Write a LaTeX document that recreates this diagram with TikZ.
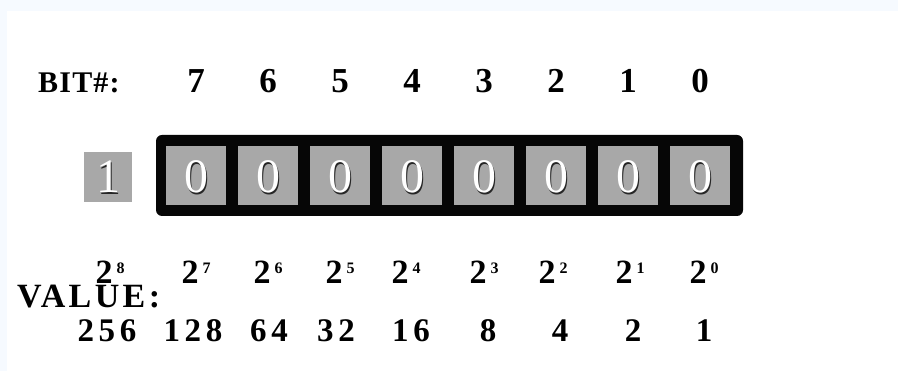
\documentclass[tikz,border=0pt]{standalone}
\usepackage{fontspec}
\setmainfont{Liberation Serif}
\usetikzlibrary{positioning}
\definecolor{cellgray}{HTML}{A8A8A8}
\definecolor{bandblue}{HTML}{F6FAFF}
\definecolor{regblack}{HTML}{060606}
\begin{document}
\begin{tikzpicture}[x=1pt,y=-1pt,
    bitnum/.style={font=\fontsize{35}{38}\selectfont\bfseries, anchor=base, inner sep=0pt},
    label/.style={anchor=base west, inner sep=0pt},
    cellbox/.style={fill=cellgray, minimum width=60pt, minimum height=59pt, inner sep=0pt},
    celldigit/.style={font=\fontsize{48}{50}\selectfont, anchor=base, inner sep=0pt, text=white},
    digitshadow/.style={celldigit, text=black!85},
    power/.style={font=\fontsize{34}{36}\selectfont\bfseries, anchor=base, inner sep=0pt},
    value/.style={font=\fontsize{33}{36}\selectfont\bfseries\addfontfeature{LetterSpace=14}, anchor=base, inner sep=0pt}]
  % background
  \fill[bandblue] (0,0) rectangle (898,371);
  \fill[white] (7,11) rectangle (898,371);
  \useasboundingbox (0,0) rectangle (898,371);

  % header
  \node[label, font=\fontsize{30}{32}\selectfont\bfseries\addfontfeature{LetterSpace=4}] (bitlabel) at (38,93) {BIT\#:};

  % register
  \node[fill=regblack, rounded corners=6pt, minimum width=587pt, minimum height=81pt] (register) at (449.5,175.5) {};
  \foreach \i in {0,...,7} {
    \pgfmathtruncatemacro{\b}{7-\i}
    \node[bitnum] (bit\b) at (196+72*\i,93) {\b};
    \node[cellbox] (cell\b) at (196+72*\i,175.5) {};
    \node[digitshadow] (cellsh\b) at (197.5+72*\i,194.5) {0};
    \node[celldigit] (celldig\b) at (196+72*\i,193) {0};
  }

  % overflow bit
  \node[cellbox, minimum width=48pt, minimum height=50pt] (carry) at (108,177) {};
  \node[digitshadow] (carrysh) at (109.5,194.5) {1};
  \node[celldigit] (carrydig) at (108,193) {1};

  % weights
  \foreach \p/\x/\v/\vx in {8/110/256/107, 7/196/128/193, 6/268/64/269, 5/340/32/336,
      4/406/16/411, 3/484/8/488, 2/553/4/560, 1/630/2/633, 0/704/1/704} {
    \node[power] (pow\p) at (\x,284) {2\kern4pt\raisebox{10pt}{\fontsize{16}{16}\selectfont\p}};
    \node[value] (val\p) at (\vx,342) {\v};
  }
  \node[label, font=\fontsize{34}{36}\selectfont\bfseries\addfontfeature{LetterSpace=10}] (valuelabel) at (17,308) {VALUE:};
\end{tikzpicture}
\end{document}
